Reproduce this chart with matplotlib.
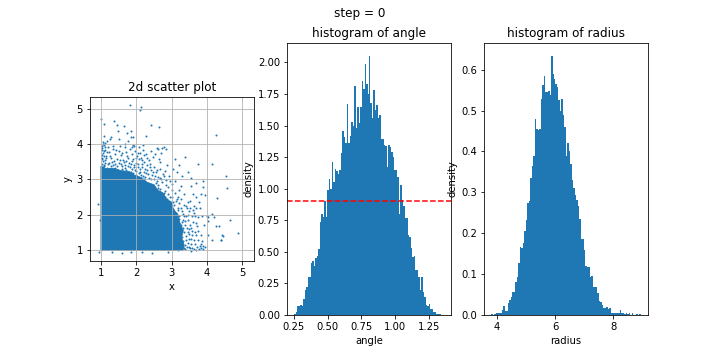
import numpy as np
import matplotlib
matplotlib.use("Agg")
from matplotlib import pyplot as plt

# heights of the 100 bars of each histogram
angle_range = (0.253, 1.36)
angle_heights = [
    0.01, 0.02, 0.07, 0.075, 0.08, 0.07, 0.13, 0.20, 0.22, 0.30,
    0.30, 0.41, 0.43, 0.39, 0.45, 0.47, 0.52, 0.74, 0.80, 0.78,
    0.90, 0.78, 0.99, 1.08, 1.00, 1.21, 1.05, 1.16, 1.14, 1.12,
    1.15, 1.28, 1.46, 1.41, 1.36, 1.67, 1.36, 1.42, 1.53, 1.50,
    1.81, 1.48, 1.65, 1.52, 1.65, 1.85, 1.79, 1.99, 1.83, 1.75,
    2.05, 1.68, 1.56, 1.78, 1.62, 1.66, 1.56, 1.58, 1.39, 1.39,
    1.35, 1.34, 1.17, 1.35, 1.33, 1.29, 1.25, 1.15, 1.15, 1.09,
    0.80, 1.03, 0.91, 0.86, 0.77, 0.77, 0.63, 0.62, 0.53, 0.46,
    0.47, 0.36, 0.36, 0.30, 0.20, 0.30, 0.18, 0.14, 0.08, 0.07,
    0.085, 0.05, 0.045, 0.025, 0.02, 0.008, 0.008, 0.005, 0.0, 0.003,
]
angle_ref = 0.905

radius_range = (3.80, 8.94)
radius_heights = [
    0.002, 0.0, 0.003, 0.005, 0.005, 0.005, 0.005, 0.012, 0.022, 0.011,
    0.010, 0.030, 0.037, 0.045, 0.056, 0.057, 0.081, 0.092, 0.126, 0.167,
    0.165, 0.175, 0.205, 0.232, 0.275, 0.279, 0.336, 0.364, 0.389, 0.479,
    0.456, 0.452, 0.456, 0.529, 0.563, 0.584, 0.545, 0.545, 0.547, 0.539,
    0.633, 0.590, 0.578, 0.566, 0.558, 0.525, 0.500, 0.527, 0.489, 0.460,
    0.388, 0.420, 0.400, 0.370, 0.330, 0.310, 0.293, 0.280, 0.266, 0.234,
    0.187, 0.187, 0.159, 0.120, 0.118, 0.118, 0.094, 0.095, 0.068, 0.068,
    0.068, 0.053, 0.034, 0.031, 0.024, 0.017, 0.017, 0.020, 0.015, 0.018,
    0.006, 0.004, 0.004, 0.004, 0.004, 0.004, 0.012, 0.004, 0.004, 0.003,
    0.004, 0.002, 0.006, 0.0, 0.004, 0.0, 0.0, 0.002, 0.0, 0.002,
]

# outline of the solid (saturated) part of the scatter cloud
core_x = [0.99, 3.32, 3.35, 3.28, 3.33, 3.22, 3.18, 3.05, 3.00, 2.85, 2.75,
          2.60, 2.50, 2.30, 2.15, 1.95, 1.80, 1.55, 1.35, 1.15, 0.99]
core_y = [0.98, 0.98, 1.15, 1.35, 1.55, 1.80, 2.00, 2.15, 2.35, 2.45, 2.62,
          2.70, 2.85, 2.92, 3.05, 3.12, 3.22, 3.25, 3.32, 3.30, 3.38]

# individual points outside the solid part
sparse_pts = [
    # y 3.0 - 3.5
    (1.02, 3.05), (1.06, 3.22), (1.09, 3.41), (1.13, 3.12), (1.17, 3.33), (1.21, 3.48),
    (1.24, 3.18), (1.28, 3.37), (1.31, 3.08), (1.35, 3.27), (1.38, 3.45), (1.42, 3.15),
    (1.46, 3.39), (1.49, 3.24), (1.53, 3.06), (1.56, 3.44), (1.60, 3.30), (1.63, 3.17),
    (1.67, 3.40), (1.71, 3.26), (1.74, 3.10), (1.78, 3.47), (1.82, 3.35), (1.85, 3.20),
    (1.89, 3.07), (1.93, 3.42), (1.96, 3.28), (2.00, 3.14), (2.04, 3.36), (2.08, 3.03),
    (2.11, 3.22), (2.15, 3.45), (2.19, 3.10), (2.23, 3.31), (2.27, 3.18), (2.31, 3.40),
    (2.35, 3.05), (2.40, 3.26), (2.45, 3.12), (2.50, 3.35), (2.56, 3.20), (2.62, 3.08),
    (1.04, 3.36), (1.15, 3.02), (1.26, 3.29), (1.44, 3.03), (1.58, 3.16), (1.69, 3.05),
    (1.80, 3.22), (1.98, 3.47), (2.06, 3.19), (2.21, 3.49), (2.38, 3.44), (2.68, 3.30),
    (2.74, 3.15),
    (1.12, 3.24), (1.19, 3.45), (1.23, 3.30), (1.27, 3.13), (1.33, 3.42), (1.36, 3.20),
    (1.40, 3.33), (1.47, 3.28), (1.51, 3.46), (1.55, 3.13), (1.59, 3.38), (1.62, 3.24),
    (1.65, 3.49), (1.68, 3.33), (1.73, 3.19), (1.76, 3.38), (1.79, 3.12), (1.84, 3.44),
    (1.87, 3.29), (1.91, 3.17), (1.94, 3.35), (1.99, 3.23), (2.02, 3.06), (2.05, 3.44),
    (2.09, 3.30), (2.13, 3.13), (2.17, 3.36), (2.21, 3.20), (2.25, 3.06), (2.29, 3.28),
    (2.33, 3.16), (2.37, 3.34), (2.42, 3.02), (2.47, 3.22), (2.52, 3.10), (2.58, 3.28),
    (1.30, 3.50), (1.52, 3.56), (1.88, 3.52), (2.08, 3.58),
    # along x = 1 above the solid part
    (1.01, 3.28), (1.03, 3.45), (1.01, 3.58), (1.05, 3.52), (1.02, 3.70), (1.07, 3.82),
    (1.01, 3.95), (1.04, 4.05), (1.09, 3.68), (1.12, 3.92), (1.06, 3.30), (1.11, 3.47),
    (1.15, 3.79), (1.01, 3.83), (1.08, 3.38), (1.14, 3.60),
    # y 3.5 - 4.0
    (1.02, 3.90), (1.05, 3.74), (1.10, 3.84), (1.14, 3.66), (1.19, 3.93), (1.23, 3.78),
    (1.29, 3.62), (1.34, 3.87), (1.39, 3.73), (1.44, 3.58), (1.50, 3.81), (1.55, 3.69),
    (1.61, 3.55), (1.66, 3.91), (1.71, 3.77), (1.76, 3.61), (1.81, 3.86), (1.86, 3.71),
    (1.91, 3.57), (1.96, 3.82), (2.01, 3.66), (2.06, 3.92), (2.11, 3.76), (2.16, 3.54),
    (2.22, 3.70), (2.31, 3.62), (2.42, 3.80), (2.52, 3.71), (2.61, 3.86), (2.73, 3.90),
    (2.78, 3.93), (2.85, 3.87), (1.12, 3.55), (1.03, 3.62), (1.37, 3.52), (1.08, 3.98),
    (1.70, 3.52), (2.35, 3.56), (2.65, 3.58), (1.90, 3.98),
    (1.25, 3.66), (1.42, 3.84), (1.58, 3.76), (1.73, 3.67), (1.88, 3.92), (2.04, 3.75),
    (2.18, 3.84), (2.27, 3.72), (2.46, 3.65), (2.57, 3.90), (1.32, 3.95), (1.53, 3.96),
    (1.98, 3.60), (2.14, 3.62), (2.70, 3.74),
    # y > 4
    (1.00, 4.71), (1.08, 4.57), (1.37, 4.67), (1.45, 4.54), (1.64, 4.51), (1.47, 4.38),
    (1.85, 4.38), (2.42, 4.54), (2.64, 4.49), (1.74, 4.31), (1.83, 4.20), (1.89, 4.20),
    (2.27, 4.23), (1.49, 4.14), (1.08, 4.23), (1.24, 4.14), (1.28, 4.21), (1.17, 4.08),
    (1.11, 4.03), (1.05, 4.00), (1.75, 4.08), (1.66, 4.02), (1.94, 3.96), (2.18, 3.98),
    (1.82, 5.11), (2.10, 4.98), (2.14, 5.06), (4.25, 4.25),
    # x 2.9 - 3.5
    (3.02, 1.04), (3.05, 1.22), (3.08, 1.45), (3.11, 1.68), (3.14, 1.90), (3.17, 2.12),
    (3.03, 2.35), (3.20, 1.10), (3.23, 1.33), (3.26, 1.57), (3.29, 1.80), (3.32, 2.03),
    (3.35, 2.28), (3.38, 1.15), (3.41, 1.40), (3.44, 1.62), (3.47, 1.86), (3.50, 2.10),
    (3.06, 1.88), (3.10, 2.05), (3.13, 1.28), (3.16, 1.52), (3.19, 1.74), (3.22, 1.97),
    (3.25, 2.20), (3.28, 1.06), (3.31, 1.25), (3.34, 1.50), (3.37, 1.72), (3.40, 1.95),
    (3.43, 2.18), (3.46, 1.20), (3.49, 1.44), (3.04, 1.60), (3.07, 1.12), (3.12, 2.40),
    (3.18, 2.50), (3.27, 2.44), (3.36, 2.60), (3.45, 2.35), (2.95, 2.50), (2.98, 2.20),
    (3.00, 1.75), (3.21, 1.02), (3.39, 1.03), (3.33, 1.85), (3.15, 1.38), (3.09, 1.95),
    (3.24, 1.65), (3.48, 1.60),
    (3.18, 1.00), (3.24, 1.18), (3.30, 1.38), (3.36, 1.05), (3.42, 1.28), (3.48, 1.08),
    (3.54, 1.18), (3.20, 1.48), (3.27, 1.72), (3.33, 1.62), (3.39, 1.82), (3.45, 1.50),
    (3.51, 1.72), (3.57, 1.42), (3.22, 1.88), (3.28, 2.10), (3.35, 1.95), (3.41, 2.25),
    (3.47, 2.00), (3.53, 2.20), (3.59, 1.95), (3.18, 2.20), (3.25, 1.28), (3.31, 1.12),
    (3.44, 1.08), (3.50, 1.32), (3.56, 1.62), (3.62, 1.28), (3.65, 1.50), (3.68, 1.75),
    (3.66, 1.95), (3.60, 2.12), (3.70, 2.20), (3.72, 1.08), (3.76, 1.28),
    # x 3.5 - 4.0
    (3.52, 1.05), (3.55, 1.30), (3.58, 1.55), (3.61, 1.80), (3.64, 2.05), (3.67, 1.18),
    (3.70, 1.42), (3.73, 1.67), (3.76, 1.92), (3.79, 2.20), (3.53, 2.40), (3.60, 2.60),
    (3.68, 2.50), (3.56, 2.80), (3.74, 1.55), (3.83, 1.41), (3.86, 1.97), (3.92, 1.72),
    (3.80, 1.10), (3.85, 1.25), (3.62, 1.02), (3.90, 2.96), (3.90, 2.79), (3.74, 3.43),
    (3.62, 2.25), (3.70, 2.90), (3.55, 3.05), (3.82, 2.60), (3.78, 2.35), (3.95, 2.55),
    (3.78, 1.02), (3.84, 1.06), (3.69, 1.01), (3.88, 1.12), (3.82, 1.18), (3.90, 1.02),
    (3.95, 1.08), (3.58, 1.04),
    # x > 4
    (4.04, 1.94), (4.19, 1.92), (4.04, 1.83), (4.02, 1.42), (4.13, 1.28), (4.25, 1.69),
    (4.40, 1.29), (4.44, 1.42), (4.66, 1.85), (4.89, 1.49), (4.28, 2.46), (4.57, 2.75),
    (4.53, 3.09), (4.13, 3.45), (4.13, 2.03), (4.00, 1.96), (4.34, 1.68), (4.39, 1.28),
    (4.45, 1.40),
    # between the diagonal edge and x = 3.5
    (2.55, 2.90), (2.62, 2.75), (2.70, 3.00), (2.78, 2.62), (2.85, 2.85), (2.92, 3.10),
    (3.00, 2.70), (3.08, 2.95), (3.15, 3.20), (3.25, 2.80), (3.09, 3.57), (3.39, 3.64),
    (3.30, 3.10), (2.88, 3.40), (2.95, 2.95), (3.20, 3.40), (3.45, 3.20), (2.66, 3.50),
    (2.82, 3.25), (3.05, 3.30),
    (2.62, 2.85), (2.68, 2.72), (2.74, 2.58), (2.80, 2.68), (2.86, 2.45), (2.90, 2.60),
    (2.96, 2.35), (3.02, 2.50), (3.07, 2.28), (3.10, 2.62), (2.72, 2.92), (2.58, 2.95),
    (2.90, 2.78), (3.00, 2.88), (2.83, 2.98), (3.14, 2.45), (3.20, 2.70), (2.94, 2.20),
    (3.05, 2.15), (2.66, 3.05), (2.78, 3.10), (2.50, 3.00), (3.12, 2.05), (2.98, 2.05),
    (3.22, 2.32),
    # fringe along the edge of the solid part
    (2.95, 1.50), (2.92, 1.85), (2.85, 2.10), (2.80, 2.30), (2.70, 2.45), (2.60, 2.55),
    (2.50, 2.70), (2.40, 2.80), (2.30, 2.90), (2.20, 3.00), (2.88, 1.95), (2.75, 2.20),
    (2.65, 2.38), (2.55, 2.48), (2.45, 2.60), (2.35, 2.75), (2.25, 2.85), (2.92, 2.05),
    (2.80, 2.50), (2.68, 2.65),
    # a few below 1
    (0.93, 0.95), (0.90, 2.30), (1.30, 0.93), (1.60, 0.92), (2.45, 0.90), (0.97, 1.85),
    (2.90, 0.95), (3.55, 0.98), (1.85, 0.95), (2.15, 0.93),
]
sparse_x = [p[0] for p in sparse_pts]
sparse_y = [p[1] for p in sparse_pts]
scatter_lim = (0.68, 5.34)


def drawHist(ax, heights, lo, hi, name):
    edges = np.linspace(lo, hi, len(heights) + 1)
    centers = (edges[:-1] + edges[1:]) / 2
    ax.hist(centers, bins=edges, weights=heights)
    ax.set_title("histogram of " + name)
    ax.set_xlabel(name)
    ax.set_ylabel("density")


fig, axs = plt.subplots(1, 3, figsize=(10, 5), dpi=72)
fig.subplots_adjust(bottom=0.125)
fig.suptitle("step = 0")

ax = axs[0]
ax.fill(core_x, core_y, color="C0", lw=0.8)
ax.scatter(sparse_x, sparse_y, s=1, color="C0")
ax.set_xlim(*scatter_lim)
ax.set_ylim(*scatter_lim)
ax.set_aspect("equal")
ax.grid(True)
ax.set_title("2d scatter plot")
ax.set_xlabel("x")
ax.set_ylabel("y")

drawHist(axs[1], angle_heights, angle_range[0], angle_range[1], "angle")
axs[1].axhline(angle_ref, color="r", linestyle="--")
drawHist(axs[2], radius_heights, radius_range[0], radius_range[1], "radius")

plt.savefig("out.png", dpi=72)
